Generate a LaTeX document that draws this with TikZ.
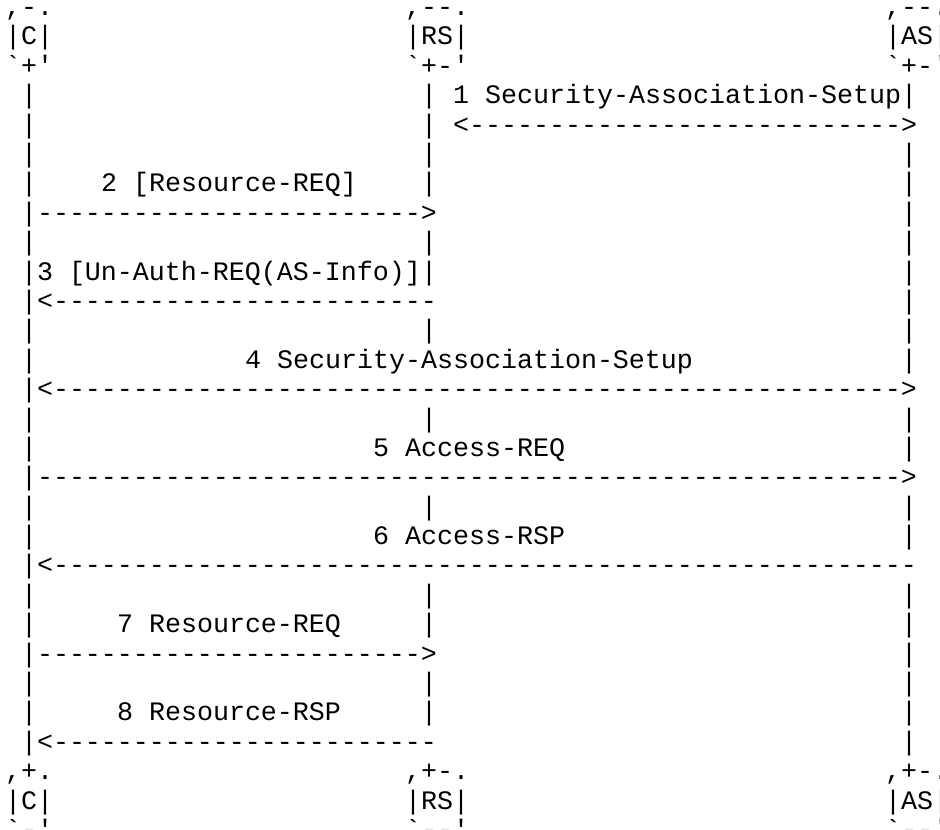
\documentclass[tikz,border=0pt]{standalone}
\usepackage{fontspec}
\setmonofont{Liberation Mono}

\begin{document}
\begin{tikzpicture}[x=8pt, y=-14.6925pt,
    ascii/.style={font=\ttfamily\fontsize{13.333pt}{14.7pt}\selectfont, anchor=base west, inner sep=0pt, outer sep=0pt}]
      \useasboundingbox (0pt,0pt) rectangle (470pt,-414.5pt);
      \begin{scope}[shift={(2.5pt,6.885pt)}]

      % Heads of C, RS and AS (top)
      \node[ascii] (cHeadA) at (0,1) {,-.};
      \node[ascii] (cHead) at (0,2) {|C|};
      \node[ascii] (cHeadB) at (0,3) {`+'};
      \node[ascii] (rsHeadA) at (25,1) {,--.};
      \node[ascii] (rsHead) at (25,2) {|RS|};
      \node[ascii] (rsHeadB) at (25,3) {`+-'};
      \node[ascii] (asHeadA) at (55,1) {,--.};
      \node[ascii] (asHead) at (55,2) {|AS|};
      \node[ascii] (asHeadB) at (55,3) {`+-'};

      % Lifelines
      \foreach \r in {4,...,26}
        \node[ascii] (lifeC\r) at (1,\r) {|};
      \foreach \r in {4,5,6,7,9,10,12,15,18,21,22,24,25}
        \node[ascii] (lifeRS\r) at (26,\r) {|};
      \foreach \r in {4,6,7,8,9,10,11,12,13,15,16,18,19,21,22,23,24,25,26}
        \node[ascii] (lifeAS\r) at (56,\r) {|};

      % Messages 1 to 4
      \node[ascii] (msg1) at (28,4) {1 Security-Association-Setup};
      \node[ascii] (arr1) at (28,5) {<--------------------------->};
      \node[ascii] (msg2) at (6,7) {2 [Resource-REQ]};
      \node[ascii] (arr2) at (2,8) {------------------------>};
      \node[ascii] (msg3) at (2,10) {3 [Un-Auth-REQ(AS-Info)]};
      \node[ascii] (arr3) at (2,11) {<------------------------};
      \node[ascii] (msg4) at (15,13) {4 Security-Association-Setup};
      \node[ascii] (arr4) at (2,14) {<----------------------------------------------------->};

      % Messages 5 to 8
      \node[ascii] (msg5) at (23,16) {5 Access-REQ};
      \node[ascii] (arr5) at (2,17) {------------------------------------------------------>};
      \node[ascii] (msg6) at (23,19) {6 Access-RSP};
      \node[ascii] (arr6) at (2,20) {<------------------------------------------------------};
      \node[ascii] (msg7) at (7,22) {7 Resource-REQ};
      \node[ascii] (arr7) at (2,23) {------------------------>};
      \node[ascii] (msg8) at (7,25) {8 Resource-RSP};
      \node[ascii] (arr8) at (2,26) {<------------------------};

      % Heads of C, RS and AS (bottom)
      \node[ascii] (cFootA) at (0,27) {,+.};
      \node[ascii] (cFoot) at (0,28) {|C|};
      \node[ascii] (cFootB) at (0,29) {`-'};
      \node[ascii] (rsFootA) at (25,27) {,+-.};
      \node[ascii] (rsFoot) at (25,28) {|RS|};
      \node[ascii] (rsFootB) at (25,29) {`--'};
      \node[ascii] (asFootA) at (55,27) {,+-.};
      \node[ascii] (asFoot) at (55,28) {|AS|};
      \node[ascii] (asFootB) at (55,29) {`--'};
      \end{scope}
\end{tikzpicture}
\end{document}
